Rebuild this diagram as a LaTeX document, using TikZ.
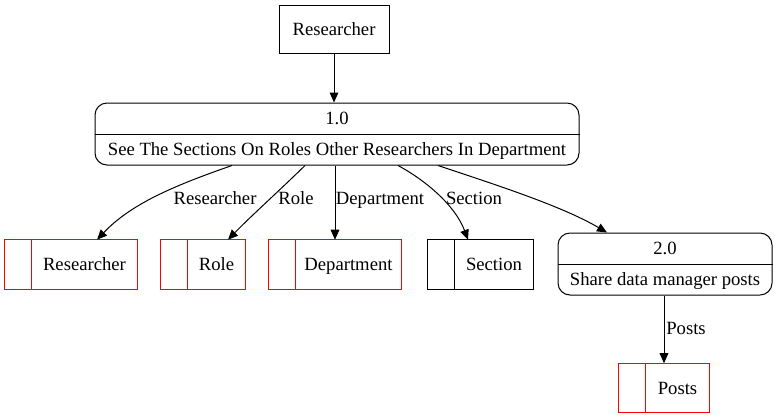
\documentclass[tikz,border=0pt]{standalone}
\usepackage{fontspec}
\setmainfont{Liberation Serif}
\usetikzlibrary{arrows.meta,calc}
\definecolor{storered}{RGB}{255,0,0}
\tikzset{
  txt/.style={text height=9.5pt, text depth=0pt},
  ext/.style={draw, txt, line width=0.75pt, minimum width=82.5pt, minimum height=36pt, inner sep=0pt},
  proc/.style={draw, line width=0.75pt, rounded corners=9pt, minimum height=46.5pt, inner sep=0pt},
  store/.style={txt, minimum height=36.75pt, inner sep=0pt},
  lbl/.style={inner sep=0pt, txt},
  flow/.style={line width=0.75pt, -{Triangle[length=7.5pt,width=6.5pt]}},
}
\begin{document}
\begin{tikzpicture}[x=0.75pt,y=-0.75pt, font=\fontsize{14pt}{16pt}\selectfont]
\useasboundingbox (0,0) rectangle (777,419);
% external entity
\node[ext] (ent) at (334,29) {Researcher};
% processes
\node[proc, minimum width=363pt] (p1) at (337,134) {};
\draw[line width=0.75pt] (p1.west) -- (p1.east);
\node[lbl] (p1a) at (337,118) {1.0};
\node[lbl] (p1b) at (337,149) {See The Sections On Roles Other Researchers In Department};
\node[proc, minimum width=160.5pt] (p2) at (665,264) {};
\draw[line width=0.75pt] (p2.west) -- (p2.east);
\node[lbl] (p2a) at (665,248) {2.0};
\node[lbl] (p2b) at (665,279) {Share data manager posts};
% data stores
\node[store, minimum width=99pt] (s1) at (71,264.5) {\hspace*{20.25pt}Researcher};
\node[store, minimum width=63pt] (s2) at (203,264.5) {\hspace*{20.25pt}Role};
\node[store, minimum width=99pt] (s3) at (335,264.5) {\hspace*{20.25pt}Department};
\node[store, minimum width=78.75pt] (s4) at (480.5,264.5) {\hspace*{20.25pt}Section};
\node[store, minimum width=67.5pt] (s5) at (664,388) {\hspace*{20.25pt}Posts};
\foreach \s/\c in {s1/storered,s2/storered,s3/storered,s4/black,s5/storered} {
  \fill[\c] ($(\s.north west)+(-0.5,-0.5)$) rectangle ($(\s.north east)+(0.5,0.5)$);
  \fill[\c] ($(\s.south west)+(-0.5,-0.5)$) rectangle ($(\s.south east)+(0.5,0.5)$);
  \fill[\c] ($(\s.north west)+(-0.5,-0.5)$) rectangle ($(\s.south west)+(0.5,0.5)$);
  \fill[\c] ($(\s.north east)+(-0.5,-0.5)$) rectangle ($(\s.south east)+(0.5,0.5)$);
  \fill[\c] ($(\s.north west)+(26.5,0)$) rectangle ($(\s.south west)+(27.5,0)$);
}
% flows
\draw[flow] (ent.south) -- (ent.south |- p1.north);
\draw[flow] ($(p1.south)+(-105,0)$) .. controls (170,187) and (130,205) .. ($(s1.north)+(26,0)$);
\draw[flow] ($(p1.south)+(-32,0)$) .. controls (280,190) and (250,217) .. ($(s2.north)+(25,0)$);
\draw[flow] (p1.south -| s3.north) -- (s3.north);
\draw[flow] ($(p1.south)+(61,0)$) .. controls (425,180) and (455,205) .. ($(s4.north)+(-12.5,0)$);
\draw[flow] ($(p1.south)+(101,0)$) .. controls (490,183) and (560,205) .. ($(p2.north)+(-58,0)$);
\draw[flow] (p2.south -| s5.north) -- (s5.north);
% flow labels
\node[lbl] (l1) at (215,198) {Researcher};
\node[lbl] (l2) at (296,198) {Role};
\node[lbl] (l3) at (380,198) {Department};
\node[lbl] (l4) at (474,198) {Section};
\node[lbl] (l5) at (686,328) {Posts};
\end{tikzpicture}
\end{document}
